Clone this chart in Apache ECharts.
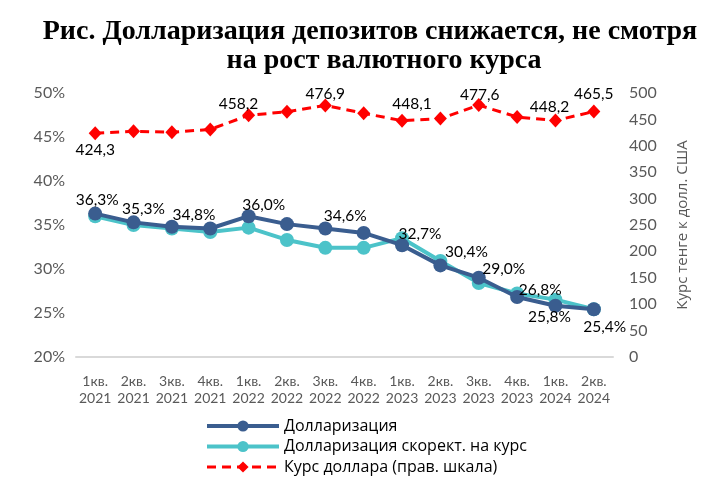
<!DOCTYPE html>
<html>
<head>
<meta charset="utf-8">
<script src="https://cdn.jsdelivr.net/npm/echarts@6/dist/echarts.min.js"></script>
<style>html,body{margin:0;padding:0;background:#fff;}#c{width:714px;height:483px;}</style>
</head>
<body>
<div id="c"></div>
<script>
const categories = ["1кв.\n2021","2кв.\n2021","3кв.\n2021","4кв.\n2021","1кв.\n2022","2кв.\n2022","3кв.\n2022","4кв.\n2022","1кв.\n2023","2кв.\n2023","3кв.\n2023","4кв.\n2023","1кв.\n2024","2кв.\n2024"];
const dollarization = [36.3, 35.3, 34.8, 34.6, 36.0, 35.1, 34.6, 34.1, 32.7, 30.4, 29.0, 26.8, 25.8, 25.4];
const dollarizationAdj = [36.0, 35.0, 34.6, 34.2, 34.7, 33.3, 32.4, 32.4, 33.5, 30.9, 28.4, 27.2, 26.5, 25.4];
const usdRate = [424.3, 428.0, 426.0, 431.5, 458.2, 465.0, 476.9, 462.0, 448.1, 452.0, 477.6, 455.0, 448.2, 465.5];
const leftTicks = {min: 20, max: 50, interval: 5};
const rightTicks = {min: 0, max: 500, interval: 50};

const seriesNames = ["Долларизация", "Долларизация скорект. на курс", "Курс доллара (прав. шкала)"];

// label placement (offsets from point center), keyed by point index
const darkLabelOffsets = {0:[2,-14],1:[10,-13],2:[22,-12],4:[15,-11],6:[20,-13],8:[18,-11],9:[26,-13],10:[25,-9],11:[23,-7],12:[-6,11],13:[11,18]};
const redLabelOffsets = {0:[0,17],4:[-10,-11],6:[0,-11],8:[10,-17],10:[1,-10],12:[-6,-14],13:[0,-17]};

const numFont = "Lato, 'Open Sans', sans-serif";
const fmt = (v, d, suf) => v.toFixed(d).replace('.', ',') + suf;

function withLabels(values, offsets, d, suf) {
  return values.map((v, i) => {
    const o = offsets[i];
    if (!o) return {value: v};
    return {value: v, label: {show: true, position: 'inside', align: 'center', verticalAlign: 'middle', offset: o,
      formatter: () => fmt(v, d, suf), color: '#000', fontSize: 15.5, fontFamily: numFont}};
  });
}

const chart = echarts.init(document.getElementById('c'));
chart.setOption({
  animation: false,
  backgroundColor: '#fff',
  title: [
    {text: 'Рис. Долларизация депозитов снижается, не смотря', left: 365, top: 13, textAlign: 'center',
      textStyle: {fontFamily: "'Liberation Serif', serif", fontWeight: 'bold', fontSize: 28, color: '#000'}},
    {text: 'на рост валютного курса', left: 379, top: 42, textAlign: 'center',
      textStyle: {fontFamily: "'Liberation Serif', serif", fontWeight: 'bold', fontSize: 28, color: '#000'}}
  ],
  grid: {left: 76, right: 101, top: 93.3, bottom: 126.3},
  legend: {
    orient: 'vertical', left: 205, top: 416, padding: 0, height: 67, itemWidth: 72, itemHeight: 14, itemGap: 0.5,
    data: [
      {name: seriesNames[0], lineStyle: {width: 4}},
      {name: seriesNames[1], lineStyle: {width: 4}},
      {name: seriesNames[2], lineStyle: {width: 3}}
    ],
    textStyle: {fontFamily: "'Open Sans', sans-serif", fontSize: 16, color: '#000', lineHeight: 20}
  },
  xAxis: {
    type: 'category', data: categories, boundaryGap: true,
    axisLine: {show: true, lineStyle: {color: '#D9D9D9', width: 2}},
    axisTick: {show: false},
    axisLabel: {color: '#595959', fontFamily: numFont, fontSize: 14, lineHeight: 17, margin: 16, interval: 0}
  },
  yAxis: [
    {type: 'value', min: leftTicks.min, max: leftTicks.max, interval: leftTicks.interval, position: 'left',
      splitLine: {show: false}, axisLine: {show: false}, axisTick: {show: false},
      axisLabel: {formatter: '{value}%', color: '#595959', fontFamily: numFont, fontSize: 16, margin: 11}},
    {type: 'value', min: rightTicks.min, max: rightTicks.max, interval: rightTicks.interval, position: 'right',
      splitLine: {show: false}, axisLine: {show: false}, axisTick: {show: false},
      axisLabel: {color: '#595959', fontFamily: numFont, fontSize: 16, margin: 16},
      name: 'Курс тенге к долл. США', nameLocation: 'middle', nameRotate: 90, nameGap: 62,
      nameTextStyle: {color: '#595959', fontFamily: "'Open Sans', sans-serif", fontSize: 15}}
  ],
  series: [
    {name: seriesNames[0], type: 'line', yAxisIndex: 0, z: 4,
      data: withLabels(dollarization, darkLabelOffsets, 1, '%'),
      symbol: 'circle', symbolSize: 14,
      lineStyle: {color: '#3A5D8F', width: 4}, itemStyle: {color: '#3A5D8F'}},
    {name: seriesNames[1], type: 'line', yAxisIndex: 0, z: 3,
      data: dollarizationAdj,
      symbol: 'circle', symbolSize: 14,
      lineStyle: {color: '#4CC3C9', width: 4}, itemStyle: {color: '#4CC3C9'}},
    {name: seriesNames[2], type: 'line', yAxisIndex: 1, z: 5,
      data: withLabels(usdRate, redLabelOffsets, 1, ''),
      symbol: 'diamond', symbolSize: [13, 14],
      lineStyle: {color: '#FF0000', width: 3, type: [9, 6]}, itemStyle: {color: '#FF0000'}}
  ]
});
</script>
</body>
</html>
